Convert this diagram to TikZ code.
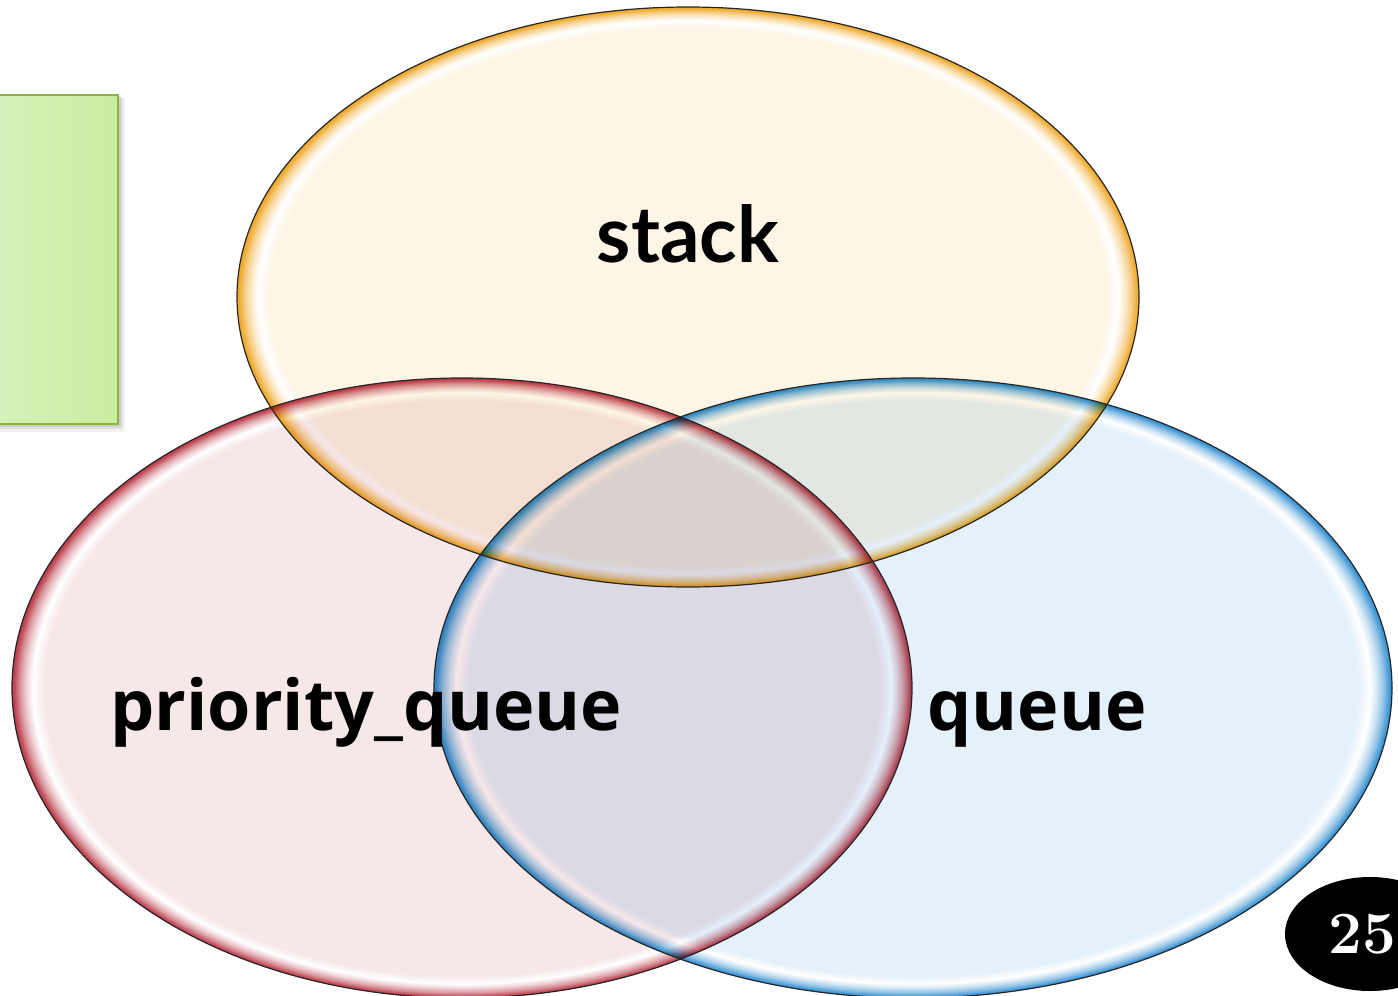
\documentclass[tikz,border=0pt]{standalone}
\usepackage{fontspec}
\newfontfamily\stackfont{Lato}
\newfontfamily\qfont{Open Sans}
\definecolor{stkE}{RGB}{238,165,35}
\definecolor{stkF}{RGB}{253,246,231}
\definecolor{redE}{RGB}{185,55,70}
\definecolor{redF}{RGB}{246,231,233}
\definecolor{bluE}{RGB}{45,140,208}
\definecolor{bluF}{RGB}{228,240,250}
\definecolor{grnB}{RGB}{140,180,60}
\definecolor{grnL}{RGB}{216,240,188}
\definecolor{grnR}{RGB}{204,236,158}
\pgfdeclareradialshading{stkglossy}{\pgfpoint{0bp}{0bp}}{color(0bp)=(stkF); color(23.2bp)=(stkF); color(23.85bp)=(white); color(24.2bp)=(stkE!22!white); color(24.55bp)=(stkE!52!white); color(24.85bp)=(stkE!88!white); color(25bp)=(stkE); color(50bp)=(stkE)}
\pgfdeclareradialshading{redglossy}{\pgfpoint{0bp}{0bp}}{color(0bp)=(redF); color(23.2bp)=(redF); color(23.85bp)=(white); color(24.2bp)=(redE!22!white); color(24.55bp)=(redE!52!white); color(24.85bp)=(redE!88!white); color(25bp)=(redE); color(50bp)=(redE)}
\pgfdeclareradialshading{bluglossy}{\pgfpoint{0bp}{0bp}}{color(0bp)=(bluF); color(23.2bp)=(bluF); color(23.85bp)=(white); color(24.2bp)=(bluE!22!white); color(24.55bp)=(bluE!52!white); color(24.85bp)=(bluE!88!white); color(25bp)=(bluE); color(50bp)=(bluE)}
\tikzset{
  rim/.style={draw=black!85, line width=0.6pt},
  setlabel/.style={inner sep=0pt, text=black},
}
\begin{document}
\begin{tikzpicture}[x=0.5pt,y=-0.5pt]
\useasboundingbox (0,0) rectangle (1398,996);
% green box with shadow
\fill[black,opacity=0.05] (-10,98) rectangle (125,432);
\fill[black,opacity=0.07] (-10,97) rectangle (123,429);
\fill[black,opacity=0.09] (-10,96) rectangle (121,427);
\shade[left color=grnL, right color=grnR] (-10,95) rectangle (118,424);
\draw[grnB, line width=1pt] (-10,95) rectangle (118,424);
% glossy ellipses, blended
\begin{scope}[blend mode=multiply]
\shade[shading=redglossy] (462,688) ellipse [x radius=450, y radius=310];
\shade[shading=bluglossy] (913,688) ellipse [x radius=479, y radius=310];
\shade[shading=stkglossy] (688,297) ellipse [x radius=451, y radius=290];
\end{scope}
\draw[rim] (462,688) ellipse [x radius=450, y radius=310];
\draw[rim] (913,688) ellipse [x radius=479, y radius=310];
\draw[rim] (688,297) ellipse [x radius=451, y radius=290];
% labels
\node[setlabel, anchor=base, font=\stackfont\bfseries\fontsize{39}{44}\selectfont] (stk) at (688,262) {stack};
\node[setlabel, anchor=base west, font=\qfont\bfseries\fontsize{35}{40}\selectfont] (pq) at (110,730) {priority\_queue};
\node[setlabel, anchor=base west, font=\qfont\bfseries\fontsize{35}{40}\selectfont] (qu) at (927,730) {queue};
% page number badge
\fill[black] (1370,934) ellipse [x radius=85, y radius=57];
\node[setlabel, anchor=base west, text=white, font=\bfseries\fontsize{30}{32}\selectfont] (pg) at (1328,953) {25};
\end{tikzpicture}
\end{document}
